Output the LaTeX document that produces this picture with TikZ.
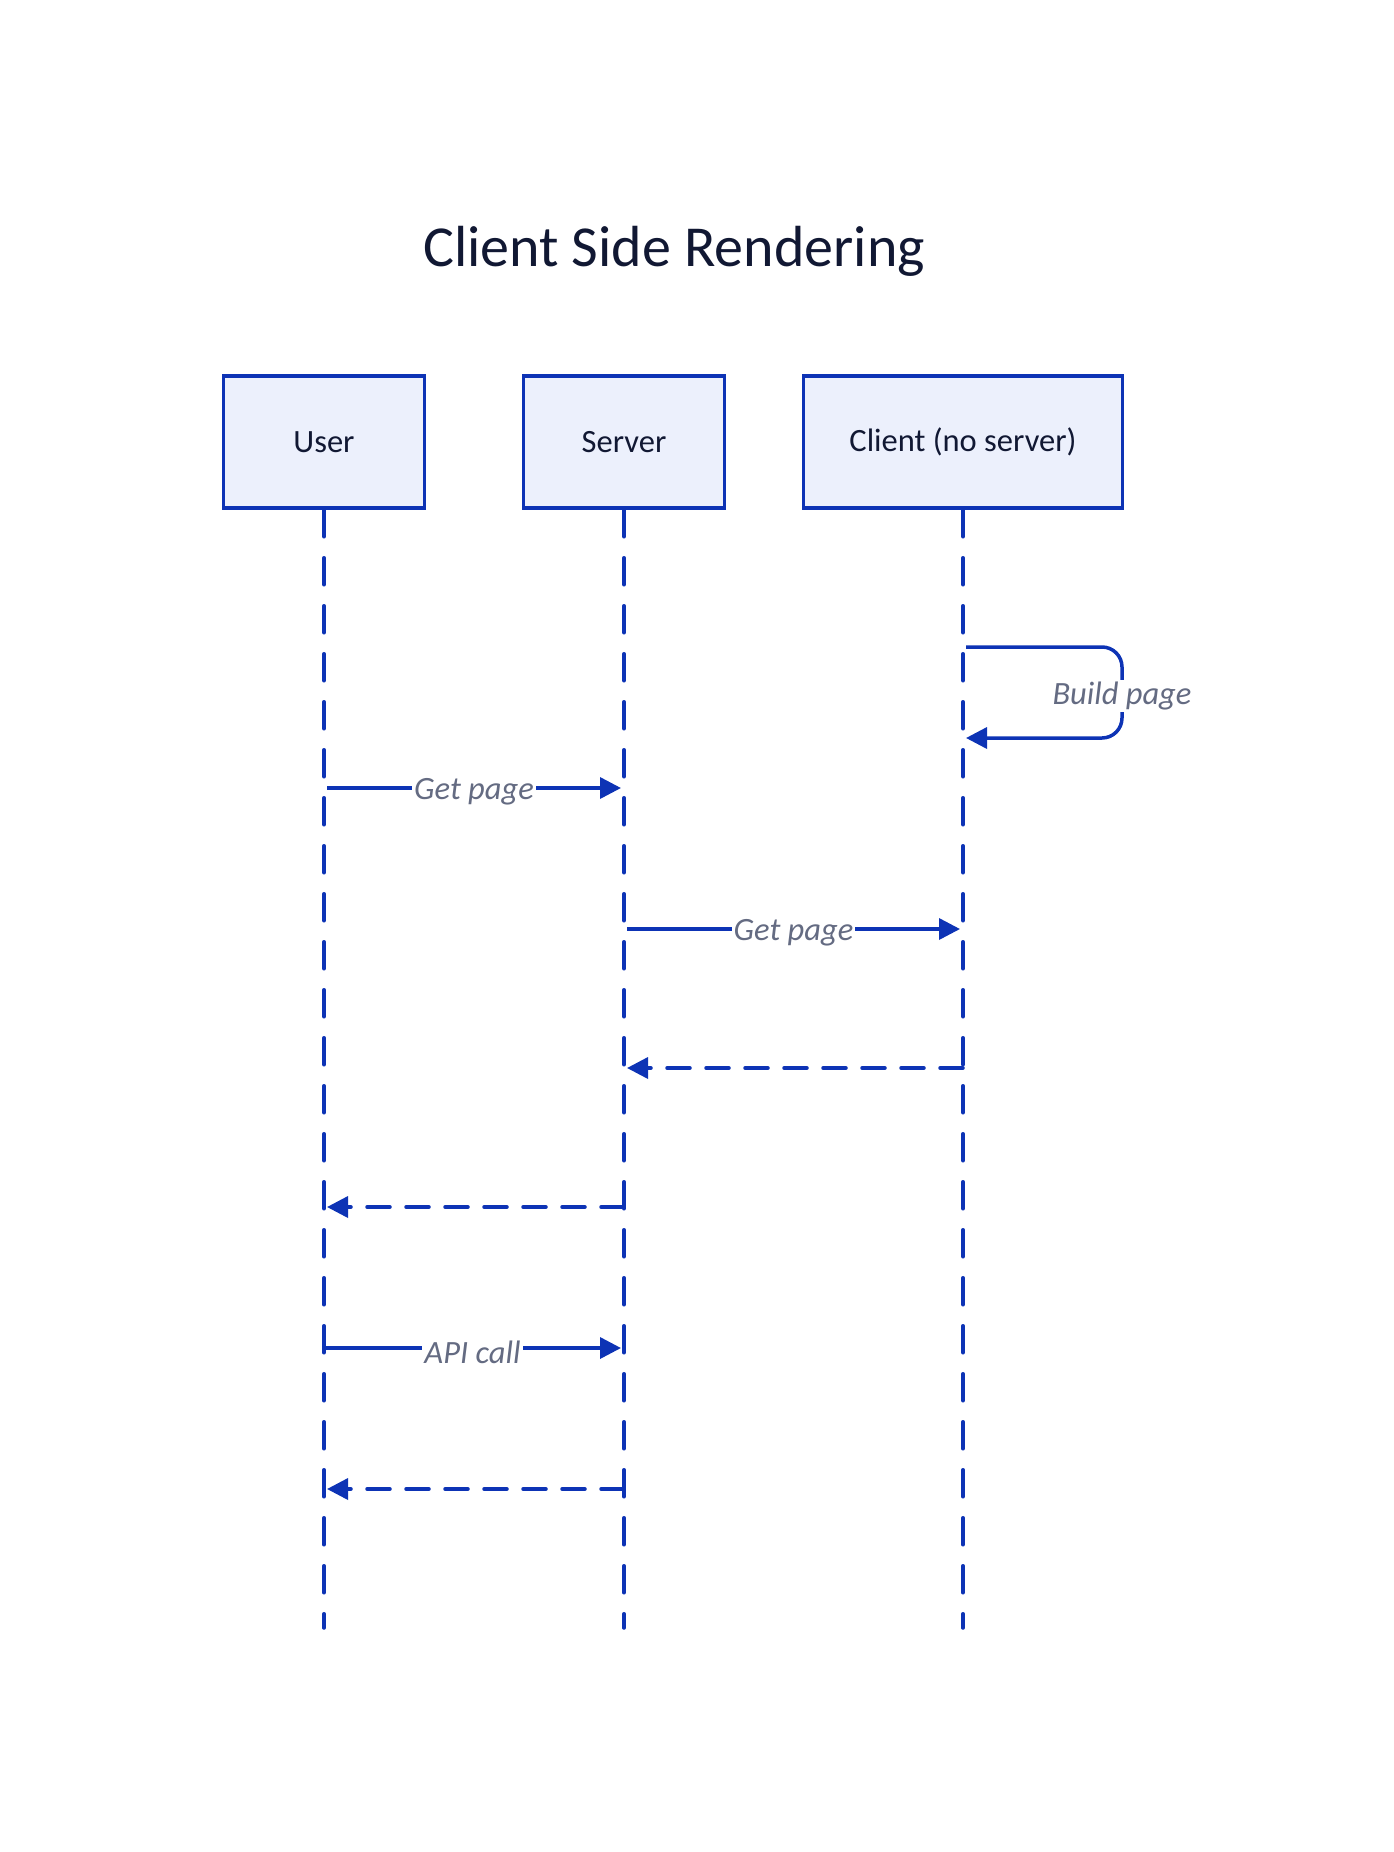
\documentclass[tikz,border=0pt]{standalone}
\usepackage{fontspec}
\setmainfont{Carlito}
\usetikzlibrary{arrows.meta}

\definecolor{lineblue}{HTML}{0D33B5}
\definecolor{boxfill}{HTML}{ECF0FC}
\definecolor{labelgray}{HTML}{646B82}
\definecolor{titleink}{HTML}{111833}

\tikzset{every picture/.style={line width=3.5pt}}
\tikzset{
  actorbox/.style={draw=lineblue, fill=boxfill, line width=3.5pt, minimum height=132pt, inner sep=0pt, font=\fontsize{32.5}{38}\selectfont, text=titleink},
  lifeline/.style={draw=lineblue, line width=3.5pt, dash pattern=on 27pt off 21pt, line cap=round},
  callarrow/.style={draw=lineblue, line width=3.5pt, -{Triangle[length=21pt,width=21pt]}},
  replyarrow/.style={callarrow, dash pattern=on 23pt off 16pt, line cap=round},
  msglabel/.style={fill=white, inner sep=2pt, text=labelgray, font=\fontsize{32.5}{38}\selectfont\itshape}
}

\begin{document}
\begin{tikzpicture}[x=1pt,y=1pt,yscale=-1,xscale=1]
\useasboundingbox (0,0) rectangle (1394,1852);

% Text Node
\node (title) [anchor=base, text=titleink, font=\fontsize{58}{68}\selectfont] at (674,266) {Client Side Rendering};

%Shape: Rectangle [actors]
\node (user) [actorbox, minimum width=201pt] at (324,442) {User};
\node (server) [actorbox, minimum width=201pt] at (624,442) {Server};
\node (client) [actorbox, minimum width=319pt] at (963,442) {Client (no server)};

% lifeline ends
\coordinate (userend) at (324,1628);
\coordinate (serverend) at (624,1628);
\coordinate (clientend) at (963,1628);

%Straight Lines [lifelines]
\draw [lifeline] (user.south) -- (userend);
\draw [lifeline] (server.south) -- (serverend);
\draw [lifeline] (client.south) -- (clientend);

% message ends on the lifelines
\coordinate (cb1) at (966,647);
\coordinate (cb2) at (966,738);
\coordinate (u1) at (327,788);
\coordinate (s1) at (621,788);
\coordinate (s2) at (627,929);
\coordinate (c2) at (960,929);
\coordinate (c3) at (963,1068);
\coordinate (s3) at (627,1068);
\coordinate (s4) at (624,1207);
\coordinate (u4) at (327,1207);
\coordinate (u5) at (324,1348);
\coordinate (s5) at (621,1348);
\coordinate (s6) at (624,1489);
\coordinate (u6) at (327,1489);

%Self loop
\draw [callarrow, rounded corners=20pt] (cb1) -- (1122,647) -- (1122,738) -- (cb2);
\node (buildlbl) [msglabel] at (1122,696) {Build page};

%Straight Lines [messages]
\draw [callarrow] (u1) -- node (getlbl1) [msglabel, yshift=-4pt] {Get page} (s1);
\draw [callarrow] (s2) -- node (getlbl2) [msglabel, yshift=-4pt] {Get page} (c2);
\draw [replyarrow] (c3) -- (s3);
\draw [replyarrow] (s4) -- (u4);
\draw [callarrow] (u5) -- node (apilbl) [msglabel, yshift=-4pt] {API call} (s5);
\draw [replyarrow] (s6) -- (u6);

\end{tikzpicture}
\end{document}
